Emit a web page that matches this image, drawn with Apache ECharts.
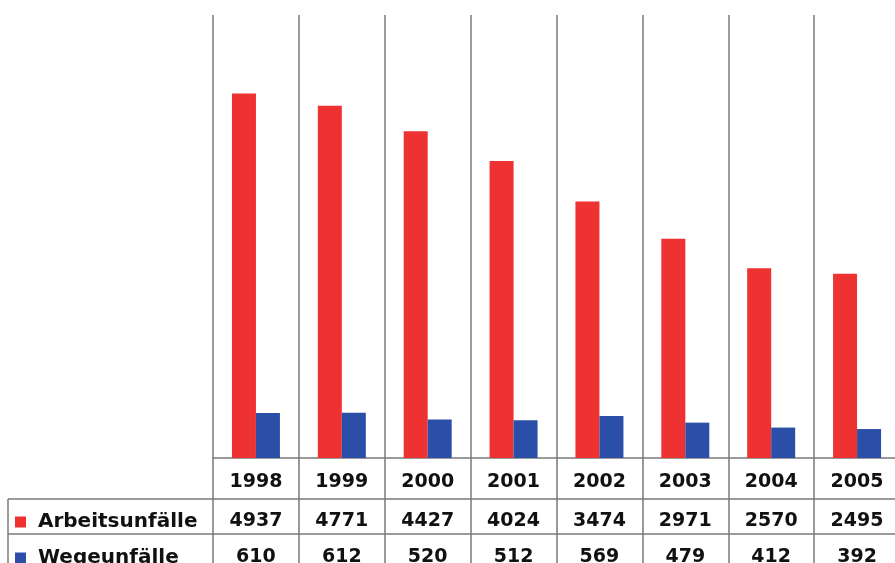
<!DOCTYPE html>
<html>
<head>
<meta charset="utf-8">
<script src="https://cdn.jsdelivr.net/npm/echarts@6/dist/echarts.min.js"></script>
<style>
html,body{margin:0;padding:0;background:#fff;}
#chart{width:895px;height:563px;}
</style>
</head>
<body>
<div id="chart"></div>
<script>
var years = ['1998','1999','2000','2001','2002','2003','2004','2005'];
var arbeitsunfaelle = [4937, 4771, 4427, 4024, 3474, 2971, 2570, 2495];
var wegeunfaelle = [610, 612, 520, 512, 569, 479, 412, 392];
var seriesNames = ['Arbeitsunfälle', 'Wegeunfälle'];
var colors = ['#ee3131', '#2b4fa8'];

var FONT = 'DejaVu Sans';
var lineColor = '#7a7a7a';
var labelStyle = {fontFamily: FONT, fontWeight: 'bold', fontSize: 19, color: '#111', interval: 0};

function legendFor(i, top) {
  return {
    orient: 'vertical',
    left: 15,
    top: top,
    padding: 0,
    itemWidth: 11,
    itemHeight: 11,
    icon: 'rect',
    selectedMode: false,
    formatter: function (n) { return ' ' + n; },
    textStyle: {fontFamily: FONT, fontWeight: 'bold', fontSize: 20, color: '#111', lineHeight: 20},
    data: [seriesNames[i]]
  };
}

var chart = echarts.init(document.getElementById('chart'), null, {renderer: 'canvas'});
chart.setOption({
  animation: false,
  backgroundColor: '#fff',
  color: colors,
  legend: [legendFor(0, 512), legendFor(1, 548)],
  grid: {left: 213, right: -5, top: 15, bottom: 105, containLabel: false, outerBoundsMode: 'none'},
  xAxis: [
    {
      type: 'category',
      data: years,
      position: 'bottom',
      axisLine: {show: true, lineStyle: {color: lineColor, width: 1.5}},
      axisTick: {show: true, interval: 0, length: 110, lineStyle: {color: lineColor, width: 1.5}},
      splitLine: {show: true, interval: 0, lineStyle: {color: lineColor, width: 1.5}},
      axisLabel: Object.assign({margin: 15}, labelStyle)
    },
    {
      type: 'category',
      data: arbeitsunfaelle.map(String),
      position: 'bottom',
      offset: 41,
      axisLine: {show: true, lineStyle: {color: lineColor, width: 1.5}},
      axisTick: {show: false},
      splitLine: {show: false},
      axisLabel: Object.assign({margin: 13}, labelStyle)
    },
    {
      type: 'category',
      data: wegeunfaelle.map(String),
      position: 'bottom',
      offset: 76,
      axisLine: {show: true, lineStyle: {color: lineColor, width: 1.5}},
      axisTick: {show: false},
      splitLine: {show: false},
      axisLabel: Object.assign({margin: 14}, labelStyle)
    }
  ],
  yAxis: {type: 'value', min: 0, max: 6000, show: false},
  series: [
    {name: seriesNames[0], type: 'bar', data: arbeitsunfaelle, barWidth: 24, barGap: '0%', xAxisIndex: 0,
     itemStyle: {color: colors[0]}},
    {name: seriesNames[1], type: 'bar', data: wegeunfaelle, barWidth: 24, barGap: '0%', xAxisIndex: 0,
     itemStyle: {color: colors[1]}}
  ],
  graphic: [
    {type: 'line', shape: {x1: 8, y1: 499, x2: 213, y2: 499}, style: {stroke: lineColor, lineWidth: 1.5}},
    {type: 'line', shape: {x1: 8, y1: 534, x2: 213, y2: 534}, style: {stroke: lineColor, lineWidth: 1.5}},
    {type: 'line', shape: {x1: 8, y1: 499, x2: 8, y2: 563}, style: {stroke: lineColor, lineWidth: 1.5}}
  ]
});
</script>
</body>
</html>
